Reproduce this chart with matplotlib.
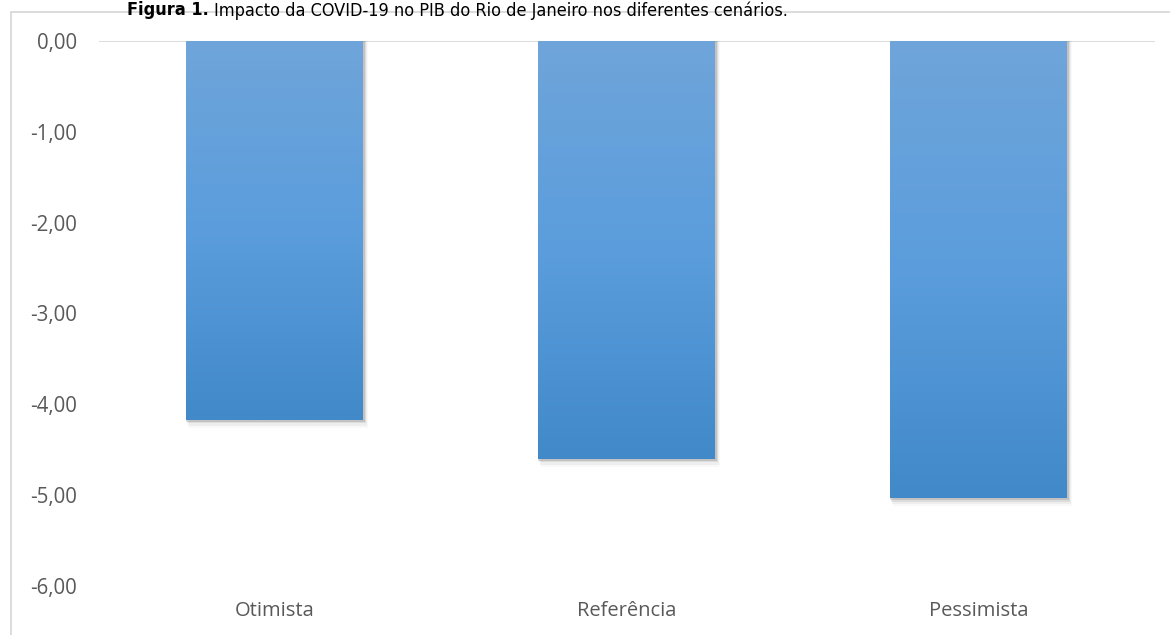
import matplotlib
matplotlib.use("Agg")
import matplotlib.pyplot as plt
import numpy as np
from matplotlib.patches import Rectangle
from matplotlib.colors import LinearSegmentedColormap

categories = ["Otimista", "Referência", "Pessimista"]
values = [-4.17, -4.60, -5.03]
yticks = [0, -1, -2, -3, -4, -5, -6]
ytick_labels = ["0,00", "-1,00", "-2,00", "-3,00", "-4,00", "-5,00", "-6,00"]

plt.rcParams['font.family'] = ['Open Sans', 'DejaVu Sans']

fig = plt.figure(figsize=(11.7, 6.35), dpi=100)
ax = fig.add_axes([99/1170, 1-586/635, (1154.5-99)/1170, (586-41)/635])

x = np.arange(len(categories))
width = 0.503
bars = ax.bar(x, values, width=width, color='none', edgecolor='none', zorder=3)

cmap = LinearSegmentedColormap.from_list('g', ['#6fa5d9', '#5b9ddd', '#4189c9'])
grad = np.linspace(0, 1, 256).reshape(-1, 1)
for b in bars:
    x0 = b.get_x(); w = b.get_width(); h = b.get_height()
    # soft shadow
    for dx, dy, a in [(0.003, -0.02, 0.16), (0.006, -0.04, 0.10), (0.009, -0.065, 0.06), (0.012, -0.09, 0.03)]:
        sh = Rectangle((x0 - 0.004 + dx, h + dy), w + 0.006, -h - dy, facecolor='#444444',
                       alpha=a, edgecolor='none', zorder=2)
        ax.add_patch(sh)
    im = ax.imshow(grad, cmap=cmap, aspect='auto', extent=(x0, x0 + w, h, 0), zorder=3,
                   interpolation='bilinear')
    im.set_clip_path(b)

ax.axhline(0, color='#d9d9d9', lw=1.3, zorder=1)
ax.set_xlim(-0.5, len(categories) - 0.5)
ax.set_ylim(-6, 0)
ax.set_yticks(yticks)
ax.set_yticklabels(ytick_labels)
ax.set_xticks(x)
ax.set_xticklabels(categories)
for s in ax.spines.values():
    s.set_visible(False)
ax.tick_params(axis='y', length=0, pad=16, labelsize=14.8, labelcolor='#595959')
ax.tick_params(axis='x', length=0, pad=11, labelsize=14.5, labelcolor='#595959')

# chart frame
frame = Rectangle((11/1170, -0.01), 1.2, 1 - 12/635 + 0.01, transform=fig.transFigure,
                  facecolor='none', edgecolor='#d9d9d9', lw=1.3, clip_on=False)
fig.patches.append(frame)

# title
ty = 1 - 1/635
t1 = fig.text(127/1170, ty, "Figura 1.", fontsize=13, fontweight='bold',
              ha='left', va='top', family='DejaVu Sans', fontstretch='condensed')
fig.canvas.draw()
bb = t1.get_window_extent(renderer=fig.canvas.get_renderer())
fig.text((bb.x1 + 5) / 1170, ty, "Impacto da COVID-19 no PIB do Rio de Janeiro nos diferentes cenários.",
         fontsize=13, ha='left', va='top', family='DejaVu Sans', fontstretch='condensed')

fig.savefig("out.png", dpi=100)
